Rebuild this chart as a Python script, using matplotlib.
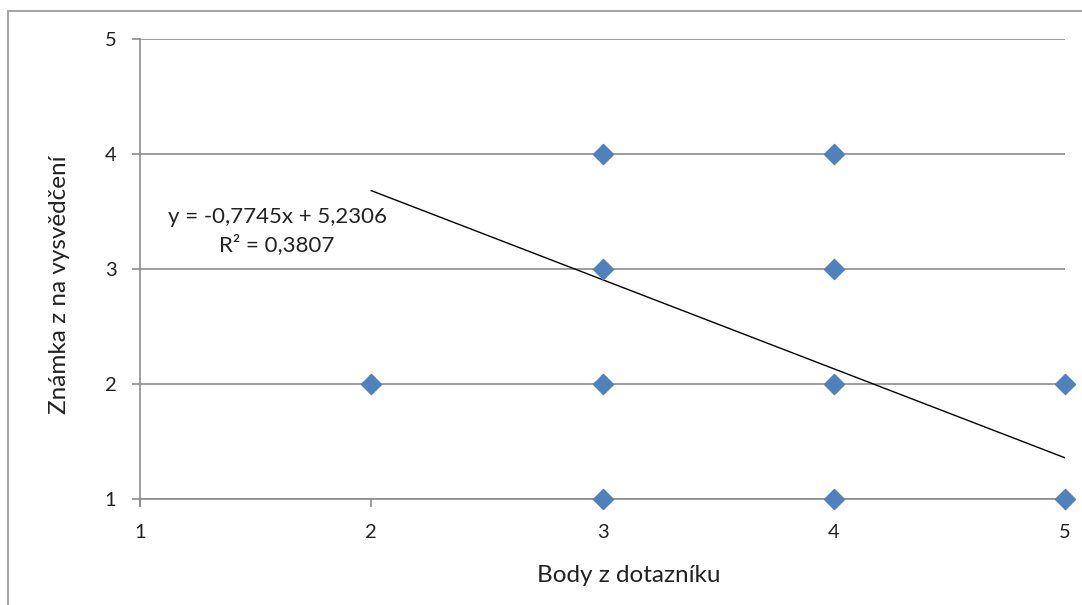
import matplotlib.pyplot as plt
from matplotlib.patches import Rectangle
import numpy as np

plt.rcParams['font.family'] = ['Lato', 'DejaVu Sans']

# data
body = [2, 3, 3, 3, 3, 4, 4, 4, 4, 5, 5]
znamka = [2, 4, 3, 2, 1, 4, 3, 2, 1, 2, 1]
slope, intercept = -0.7745, 5.2306
trend_x = [2, 5]
ticks = [1, 2, 3, 4, 5]

W, H = 1082, 605
fig = plt.figure(figsize=(W / 100, H / 100), dpi=100)
fig.patches.append(Rectangle((8 / W, -0.1), 1.2, 1 - 11 / H + 0.1,
                             transform=fig.transFigure, fill=False,
                             edgecolor='#a6a6a6', lw=1.5))

ax = fig.add_axes([140 / W, 1 - 499 / H, (1065 - 140) / W, (499 - 39) / H])
ax.set_xlim(1, 5)
ax.set_ylim(1, 5)
ax.set_xticks(ticks)
ax.set_yticks(ticks)
ax.grid(axis='y', color='#8c8c8c', lw=1.2)
ax.set_axisbelow(True)
for s in ['top', 'right', 'bottom']:
    ax.spines[s].set_visible(False)
ax.spines['left'].set_color('#8c8c8c')
ax.spines['left'].set_linewidth(1.2)
ax.spines['left'].set_bounds(0.95, 5)
ax.tick_params(axis='y', length=6, width=1.2, color='#8c8c8c', labelsize=14.5,
               pad=11, labelcolor='#222222')
ax.tick_params(axis='x', length=6, width=1.2, color='#8c8c8c', labelsize=14.5,
               pad=12, labelcolor='#222222')
ax.plot([1, 5], [1, 1], color='#8c8c8c', lw=1.2, clip_on=False, zorder=1)

tx = np.array(trend_x)
ax.plot(tx, slope * tx + intercept, color='black', lw=1, zorder=2)
ax.scatter(body, znamka, marker='D', s=105, color='#4f81bd', zorder=3, clip_on=False)

fig.text(277 / W, 1 - 217 / H, 'y = -0,7745x + 5,2306', ha='center', va='center',
         fontsize=16, color='#222222')
fig.text(277 / W, 1 - 245 / H, 'R² = 0,3807', ha='center', va='center',
         fontsize=16, color='#222222')

fig.text(629 / W, 1 - 575 / H, 'Body z dotazníku', ha='center', va='center',
         fontsize=17.5, color='#222222')
fig.text(60 / W, 1 - 285 / H, 'Známka z na vysvědčení', ha='center', va='center',
         rotation=90, fontsize=17.5, color='#222222')

fig.savefig('out.png', dpi=100)
